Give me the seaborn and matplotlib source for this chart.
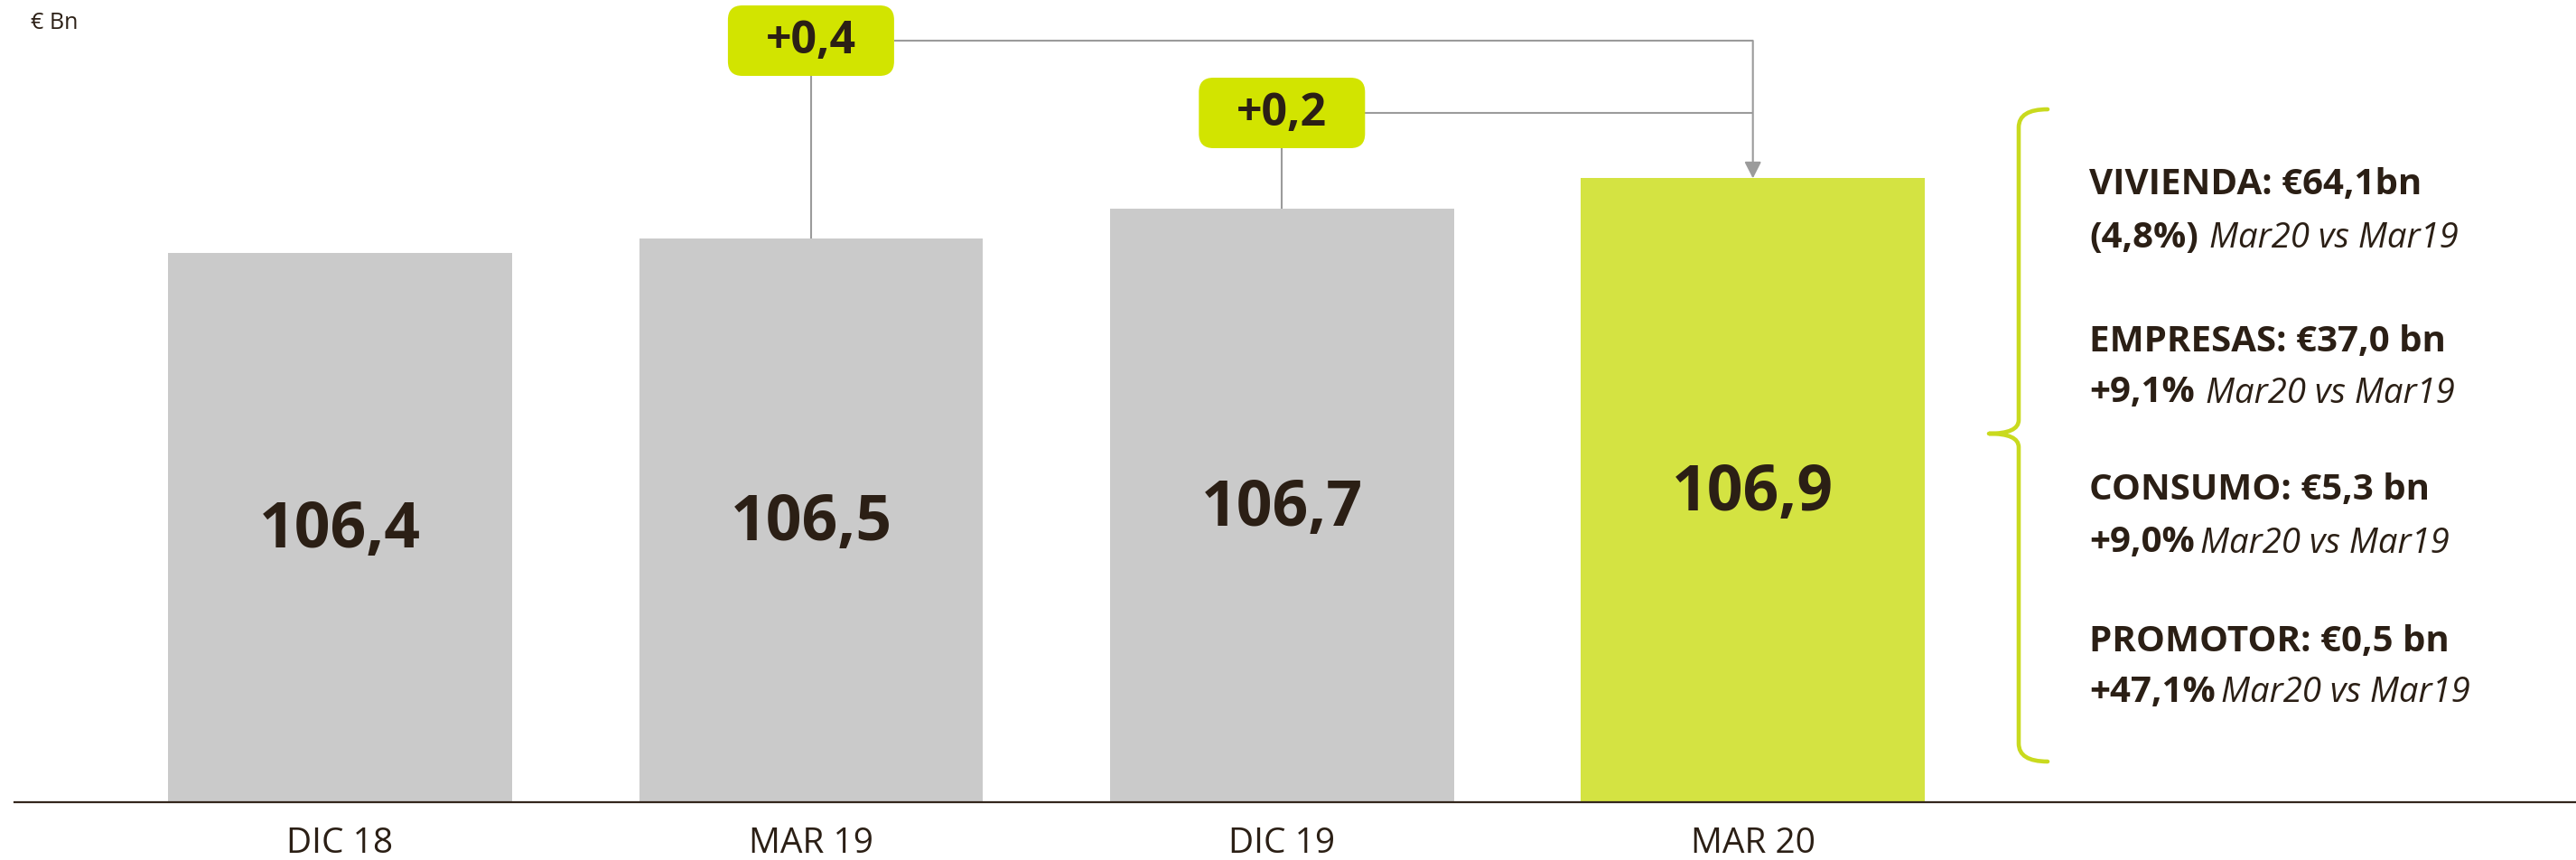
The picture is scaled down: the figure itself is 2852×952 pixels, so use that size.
import matplotlib
matplotlib.use("Agg")
import matplotlib.pyplot as plt
import matplotlib.transforms as mtrans
from matplotlib.patches import FancyBboxPatch, PathPatch
from matplotlib.path import Path
import seaborn as sns
import pandas as pd

# ---------------- data ----------------
categories = ["DIC 18", "MAR 19", "DIC 19", "MAR 20"]
values = [106.4, 106.5, 106.7, 106.9]
value_labels = ["106,4", "106,5", "106,7", "106,9"]
delta_labels = ["+0,4", "+0,2"]
delta_from = [1, 2]          # category index each delta box sits over
unit_label = "€ Bn"

seg_titles = ["VIVIENDA: €64,1bn", "EMPRESAS: €37,0 bn", "CONSUMO: €5,3 bn", "PROMOTOR: €0,5 bn"]
seg_growth = ["(4,8%)", "+9,1%", "+9,0%", "+47,1%"]
seg_period = ["Mar20 vs Mar19", "Mar20 vs Mar19", "Mar20 vs Mar19", "Mar20 vs Mar19"]

# ---------------- style ----------------
W, H = 2852, 953
DPI = 100
TEXT = "#2B1F15"
GREY_BAR = "#CACACA"
GREEN_BAR = "#D4E342"
BOX_GREEN = "#D2E400"
LINE_GREY = "#9B9B9B"
BRACE = "#C9DA1E"

sns.set_theme(style="white")
plt.rcParams['font.family'] = ['Open Sans', 'DejaVu Sans']

fig = plt.figure(figsize=(W / DPI, H / DPI), dpi=DPI)
base_px = 889
ax = fig.add_axes([16 / W, (H - base_px) / H, (W - 16) / W, base_px / H])

df = pd.DataFrame({"cat": categories, "val": values})
palette = [GREY_BAR, GREY_BAR, GREY_BAR, GREEN_BAR]
sns.barplot(data=df, x="cat", y="val", hue="cat", palette=palette, legend=False,
            width=0.73, saturation=1, linewidth=0, ax=ax)

ymin = 102.73
px_per_unit = 165.6
ymax = ymin + base_px / px_per_unit
ax.set_ylim(ymin, ymax)
x0 = 376.5
step = 521.4
ax.set_xlim((16 - x0) / step, (W - x0) / step)

for s in ["top", "right", "left"]:
    ax.spines[s].set_visible(False)
ax.spines["bottom"].set_color("#33261C")
ax.spines["bottom"].set_linewidth(1.6)
ax.set_yticks([])
ax.set_xlabel("")
ax.set_ylabel("")
ax.tick_params(axis="x", length=0, pad=19, labelsize=28, labelcolor=TEXT)

# value labels in the middle of each bar
for i, (v, lab) in enumerate(zip(values, value_labels)):
    ax.text(i, (v + ymin) / 2 - 0.02, lab, ha="center", va="center",
            fontsize=50, fontweight="bold", color=TEXT)

# unit label
fig.text(34 / W, 1 - 26 / H, unit_label, ha="left", va="center", fontsize=18, color=TEXT)

# delta boxes
def y_from_top(px):
    return ymin + (base_px - px) / px_per_unit

box_centers_y = [y_from_top(46), y_from_top(126)]
box_w_px, box_h_px = 184, 78
half_h = (box_h_px / 2) / px_per_unit
half_w = (box_w_px / 2) / step
arrow_x = 3

for k, (lab, ci, yc) in enumerate(zip(delta_labels, delta_from, box_centers_y)):
    cx, cy = ax.transData.transform((ci, yc))
    patch = FancyBboxPatch((cx - box_w_px / 2, cy - box_h_px / 2), box_w_px, box_h_px,
                           boxstyle="round,pad=0,rounding_size=16",
                           transform=mtrans.IdentityTransform(),
                           fc=BOX_GREEN, ec="none", zorder=5, clip_on=False)
    fig.patches.append(patch)
    fig.text(cx / W, cy / H, lab, ha="center", va="center", fontsize=36,
             fontweight="bold", color=TEXT, zorder=6)
    # vertical line from box to bar top
    ax.plot([ci, ci], [yc - half_h, values[ci]], color=LINE_GREY, lw=1.5,
            solid_capstyle="butt", zorder=3)
    # horizontal line to the last bar
    ax.plot([ci + half_w, arrow_x], [yc, yc], color=LINE_GREY, lw=1.5,
            solid_capstyle="butt", zorder=3)

ax.annotate("", xy=(arrow_x, values[arrow_x]), xytext=(arrow_x, box_centers_y[0]),
            arrowprops=dict(arrowstyle="-|>,head_length=0.55,head_width=0.28",
                            mutation_scale=20, color=LINE_GREY, lw=1.5,
                            shrinkA=0, shrinkB=0), zorder=3)

# curly brace
def P(x, y):
    return (x, H - y)

verts = [P(2267, 122), P(2235, 122), P(2235, 142),
         P(2235, 466), P(2235, 481), P(2202, 481),
         P(2235, 481), P(2235, 496),
         P(2235, 824), P(2235, 844), P(2267, 844)]
codes = [Path.MOVETO, Path.CURVE3, Path.CURVE3,
         Path.LINETO, Path.CURVE3, Path.CURVE3,
         Path.CURVE3, Path.CURVE3,
         Path.LINETO, Path.CURVE3, Path.CURVE3]
brace = PathPatch(Path(verts, codes), fc="none", ec=BRACE, lw=3.3,
                  transform=mtrans.IdentityTransform(), capstyle="round",
                  joinstyle="round")
fig.patches.append(brace)

# right hand text block
title_y = [205, 379, 542, 711]
growth_y = [263, 435, 601, 767]
text_x = 2313
gaps = [12, 12, 6, 6]
for t, g, p, ty, gy, gap in zip(seg_titles, seg_growth, seg_period, title_y, growth_y, gaps):
    fig.text(text_x / W, 1 - ty / H, t, ha="left", va="center", fontsize=29,
             fontweight="bold", color=TEXT)
    gt = fig.text(text_x / W, 1 - gy / H, g, ha="left", va="center", fontsize=29,
                  fontweight="bold", color=TEXT)
    ax.annotate(p, xy=(1, 0), xycoords=gt, xytext=(gap * 0.72, 0),
                textcoords="offset points", ha="left", va="bottom",
                fontsize=27.5, fontstyle="italic", color=TEXT,
                annotation_clip=False)

fig.savefig("out.png", dpi=DPI)
